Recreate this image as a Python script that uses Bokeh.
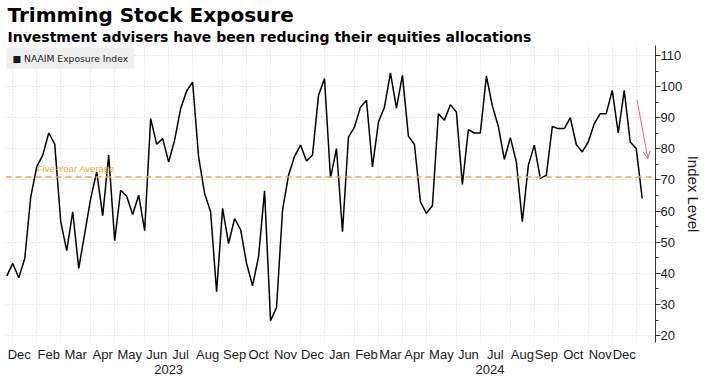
import numpy as np
import pandas as pd
from bokeh.plotting import figure
from bokeh.models import (Range1d, FixedTicker, LinearAxis, Span, Label,
                          Title, Arrow, OpenHead, ColumnDataSource)
from bokeh.embed import file_html
from bokeh.resources import INLINE

# ---------------- data ----------------
first_date = "2022-12-28"          # weekly NAAIM readings
naaim = [39.2, 43.2, 38.6, 44.8, 64.6, 74.2, 78.0, 85.1, 81.5, 56.6, 47.3, 59.8, 41.6, 52.8,
         64.1, 72.6, 58.5, 78.0, 50.5,
         66.7, 64.8, 58.9, 65.1, 53.7, 89.7, 81.5, 83.3, 75.8, 82.8, 92.9, 98.6, 101.4, 77.4,
         65.7, 59.8, 34.1,
         60.9, 49.6, 57.6, 54.1, 43.2, 36.0, 45.4, 66.5, 24.8, 29.1, 60.3, 71.5, 77.6, 81.2,
         76.1, 78.0, 97.2, 102.5,
         70.7, 80.1, 53.4, 83.8, 87.0, 93.4, 95.6, 74.2, 88.6, 93.4, 104.4, 93.1, 103.6, 84.1,
         81.4, 63.0, 59.3,
         61.7, 91.3, 89.2, 94.2, 91.8, 68.6, 86.2, 85.1, 85.1, 103.4, 93.8, 87.2, 76.6, 83.6,
         75.8, 56.6, 74.7, 81.2,
         70.5, 71.5, 87.2, 86.5, 86.5, 90.0, 81.4, 79.0, 82.2, 88.1, 91.3, 91.3, 98.8, 85.1,
         98.8, 82.2, 80.1, 64.1]
series_name = "NAAIM Exposure Index"
five_year_average = 71.0
month_names = ["Jan", "Feb", "Mar", "Apr", "May", "Jun", "Jul", "Aug", "Sep", "Oct", "Nov", "Dec"]
year_labels = [2023, 2024]
y_ticks = [20, 30, 40, 50, 60, 70, 80, 90, 100, 110]
y_minor = [25, 35, 45, 55, 65, 75, 85, 95, 105]

# ---------------- derived positions ----------------
dates = pd.date_range(first_date, periods=len(naaim), freq="7D")
xs = [float(v) for v in (dates - dates[0]).days]
x_start, x_end = -1.5, 757.5
y_start, y_end = 17.8, 113.2

mkeys = [(d.year, d.month) for d in dates]
starts = [0] + [k for k in range(1, len(dates)) if mkeys[k] != mkeys[k - 1]]
grid_ticks = [xs[k] for k in starts[1:]]

month_ticks, month_over = [], {}
prev = None
for i, k in enumerate(starts):
    end = xs[starts[i + 1]] if i + 1 < len(starts) else x_end
    c = max((xs[k] + end) / 2.0, x_start + 16.0)
    if prev is not None and c - prev < 20:
        continue
    if x_end - c < 15:
        continue
    month_ticks.append(c)
    month_over[c] = month_names[mkeys[k][1] - 1]
    prev = c

year_ticks, year_over = [], {}
for yr in year_labels:
    ks = [k for k in range(len(dates)) if dates[k].year == yr]
    nxt = [k for k in range(len(dates)) if dates[k].year == yr + 1]
    end = xs[nxt[0]] if (yr + 1) in year_labels else x_end
    c = (xs[ks[0]] + end) / 2.0
    year_ticks.append(c)
    year_over[c] = str(yr)

src = ColumnDataSource(dict(x=xs, y=naaim))

# ---------------- figure ----------------
p = figure(width=705, height=376, output_backend="svg", toolbar_location=None,
           x_range=Range1d(x_start, x_end), y_range=Range1d(y_start, y_end),
           y_axis_location="right", min_border_left=5, min_border_right=0,
           min_border_top=0, min_border_bottom=0)
p.outline_line_color = None
p.background_fill_color = "white"

sub = Title(text="Investment advisers have been reducing their equities allocations",
            text_font="DejaVu Sans", text_font_size="14px", text_font_style="bold",
            text_color="black", standoff=1, offset=2)
main = Title(text="Trimming Stock Exposure", text_font="DejaVu Sans", text_font_size="20px",
             text_font_style="bold", text_color="black", standoff=0, offset=2)
p.add_layout(sub, "above")
p.add_layout(main, "above")

# x axes
xa = p.xaxis[0]
xa.ticker = FixedTicker(ticks=month_ticks)
xa.major_label_overrides = month_over
xa.axis_line_color = None
xa.major_tick_line_color = None
xa.minor_tick_line_color = None
xa.major_tick_out = 0
xa.major_tick_in = 0
xa.minor_tick_out = 0
xa.minor_tick_in = 0
xa.major_label_standoff = 4
xa.major_label_text_font = "Liberation Sans"
xa.major_label_text_font_size = "13px"
xa.major_label_text_color = "#1a1a1a"

ya2 = LinearAxis(ticker=FixedTicker(ticks=year_ticks), major_label_overrides=year_over,
                 axis_line_color=None, major_tick_line_color=None, minor_tick_line_color=None,
                 major_tick_out=0, major_tick_in=0, minor_tick_out=0, minor_tick_in=0,
                 major_label_standoff=0, major_label_text_font="Liberation Sans",
                 major_label_text_font_size="13px", major_label_text_color="#1a1a1a")
p.add_layout(ya2, "below")

# y axis
ya = p.yaxis[0]
ya.ticker = FixedTicker(ticks=y_ticks, minor_ticks=y_minor)
ya.axis_line_color = "#333333"
ya.major_tick_line_color = "#333333"
ya.minor_tick_line_color = "#333333"
ya.major_tick_out = 5
ya.major_tick_in = 0
ya.minor_tick_out = 3
ya.minor_tick_in = 0
ya.major_label_standoff = 0
ya.major_label_text_font = "Liberation Sans"
ya.major_label_text_font_size = "13px"
ya.major_label_text_color = "#1a1a1a"
ya.axis_label = "Index Level"
ya.axis_label_text_font = "Liberation Sans"
ya.axis_label_text_font_size = "15px"
ya.axis_label_text_font_style = "normal"
ya.axis_label_text_color = "#1a1a1a"
ya.axis_label_standoff = 0

# grids
p.xgrid[0].ticker = FixedTicker(ticks=grid_ticks)
p.xgrid[0].grid_line_color = "#d4d4d4"
p.xgrid[0].grid_line_dash = "1 2"
p.ygrid[0].grid_line_color = "#d4d4d4"
p.ygrid[0].grid_line_dash = "1 2"

# five-year average
p.add_layout(Span(location=five_year_average, dimension="width", line_color="#f0a935",
                  line_dash="6 4", line_width=1.5))
p.add_layout(Label(x=xs[5], y=five_year_average, y_offset=3, text="Five-Year Average",
                   text_color="#f0a935", text_font="Liberation Sans",
                   text_font_size="9.5px"))

# main line
p.line("x", "y", source=src, line_color="black", line_width=1.5)

# arrow
p.add_layout(Arrow(x_start=736, y_start=95.6, x_end=748.6, y_end=76.9,
                   line_color="#e8607e", line_width=1,
                   end=OpenHead(size=7, line_color="#e8607e", line_width=1)))

# legend box (top-left corner of the plot)
p.add_layout(Label(x=x_start, y=y_end, x_offset=1, y_offset=-2, anchor="top_left",
                   text="\u25a0 " + series_name, text_font="DejaVu Sans",
                   text_font_size="9.2px", text_color="#1a1a1a",
                   background_fill_color="#efefef", background_fill_alpha=1.0,
                   padding=(6, 5)))

open("out.html", "w").write(file_html(p, INLINE))
